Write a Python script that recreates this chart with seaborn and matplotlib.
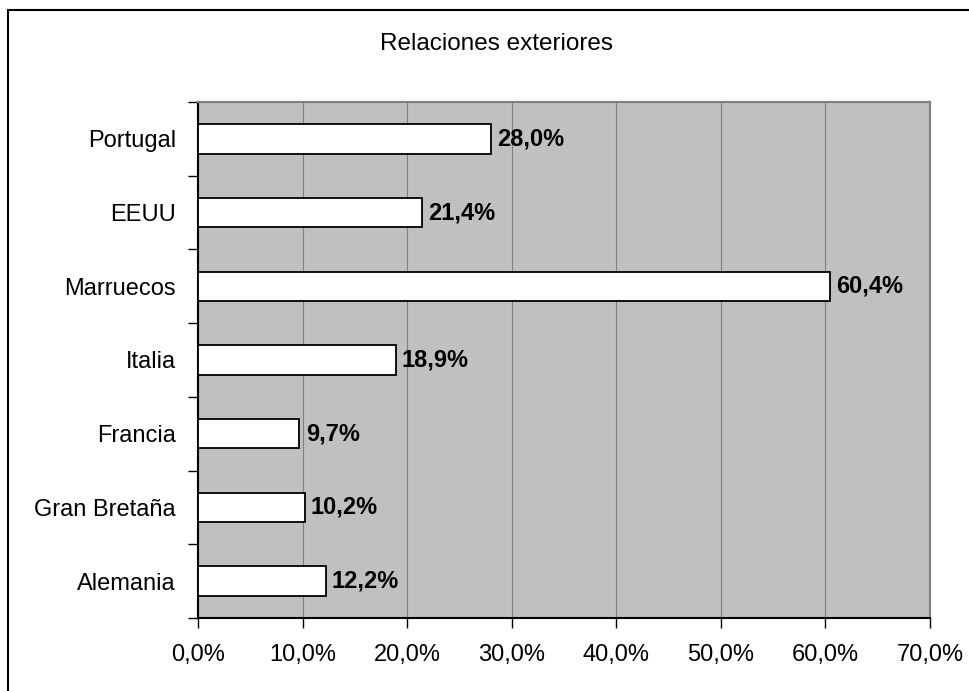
import pandas as pd
import numpy as np
import matplotlib
matplotlib.use('Agg')
import matplotlib.pyplot as plt
import seaborn as sns
from matplotlib.patches import Rectangle
from matplotlib.ticker import FuncFormatter, FixedLocator

# Datos del gráfico
paises = ['Portugal', 'EEUU', 'Marruecos', 'Italia', 'Francia', 'Gran Bretaña', 'Alemania']
porcentajes = [28.0, 21.4, 60.4, 18.9, 9.7, 10.2, 12.2]
titulo = 'Relaciones exteriores'

dados = pd.DataFrame({'Pais': paises, 'Porcentaje': porcentajes})

sns.set_style('white')
plt.rcParams['font.family'] = ['Liberation Sans', 'DejaVu Sans']
plt.rcParams['text.color'] = 'black'
plt.rcParams['xtick.color'] = 'black'
plt.rcParams['ytick.color'] = 'black'
plt.rcParams['axes.labelcolor'] = 'black'

fig = plt.figure(figsize=(9.69, 6.91), dpi=100)
ax = fig.add_axes([198 / 969, 1 - 618 / 691, (930 - 198) / 969, (618 - 102) / 691])

sns.barplot(x='Porcentaje', y='Pais', data=dados, orient='h', color='white',
            edgecolor='black', linewidth=1.3, width=0.4, saturation=1, ax=ax, zorder=3)

ax.set_facecolor('#C0C0C0')
ax.set_xlim(0, 70)
ax.set_ylim(len(paises) - 0.5, -0.5)
ax.set_xticks(np.arange(0, 71, 10))
ax.xaxis.set_major_formatter(FuncFormatter(lambda v, p: f'{v:.1f}%'.replace('.', ',')))
ax.grid(axis='x', color='#808080', linewidth=0.8, zorder=0)
ax.set_axisbelow(True)

# marcas del eje y en los limites de las categorias
ax.yaxis.set_minor_locator(FixedLocator(np.arange(-0.5, len(paises), 1)))
ax.tick_params(axis='y', which='major', length=0, pad=16, labelsize=17, labelcolor='black')
ax.tick_params(axis='y', which='minor', length=7, width=1, color='black', direction='out', left=True)
ax.tick_params(axis='x', length=7, width=1, color='black', direction='out', bottom=True,
               labelsize=17, pad=12, labelcolor='black')
ax.set_xlabel('')
ax.set_ylabel('')

for lado in ['left', 'bottom']:
    ax.spines[lado].set_color('black')
    ax.spines[lado].set_linewidth(1.5)
for lado in ['top', 'right']:
    ax.spines[lado].set_color('#808080')
    ax.spines[lado].set_linewidth(1.6)

# etiquetas de datos
for i, v in enumerate(porcentajes):
    ax.text(v + 0.6, i, f'{v:.1f}%'.replace('.', ','), va='center', ha='left',
            fontsize=17, fontweight='bold', color='black', zorder=4)

fig.text(497 / 969, 1 - 44 / 691, titulo, ha='center', va='center', fontsize=17.5, color='black')

# borde del area del grafico
fig.patches.append(Rectangle((8 / 969, -0.1), 1.2, 1 - 10 / 691 + 0.1, transform=fig.transFigure,
                             fill=False, edgecolor='black', linewidth=1.5))

fig.savefig('out.png', dpi=100)
